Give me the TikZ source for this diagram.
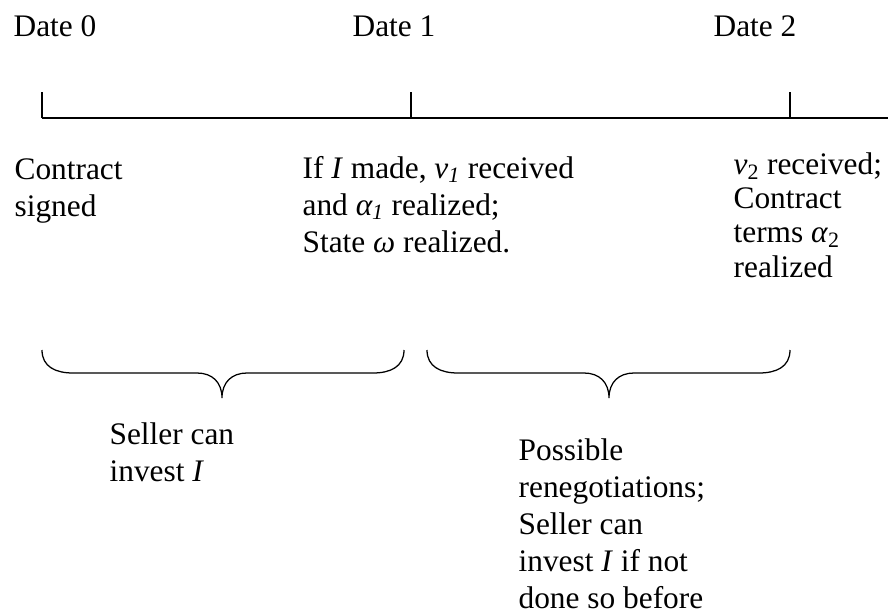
\documentclass[tikz,border=0pt]{standalone}
\usepackage{fontspec}
\setmainfont{Liberation Serif}
\usetikzlibrary{positioning}

\begin{document}
\begin{tikzpicture}[x=0.025cm, y=-0.025cm, line width=0.9pt,
  every node/.style={inner sep=0pt, anchor=base west, align=left,
    font=\fontsize{22.3}{26.2}\selectfont}]
  \useasboundingbox (0,0) rectangle (888,614);

  \node (d0) at (13,36) {Date 0};
  \node (d1) at (352,36) {Date 1};
  \node (d2) at (713,36) {Date 2};

  \coordinate (t0) at (42,118);
  \coordinate (t1) at (411,118);
  \coordinate (t2) at (790,118);
  \coordinate (tend) at (888,118);
  \draw (t0) -- (tend);
  \foreach \t in {t0,t1,t2}
    \draw (\t) -- ++(0,-26);

  \node (sign) at (14,216) {Contract\\signed};
  \node (made) at (302,252) {If \textit{I} made, \textit{v\textsubscript{1}} received\\
    and \textit{α\textsubscript{1}} realized;\\State \textit{ω} realized.};
  \node[font=\fontsize{22.3}{24.2}\selectfont] (recv) at (733,277)
    {\textit{v}\textsubscript{2} received;\\Contract\\terms \textit{α}\textsubscript{2}\\realized};

  \foreach \a/\m/\b in {42/222/404, 427/609/790}
    \draw (\a,350) .. controls (\a,367) and (\a+14,373) .. (\a+31,373)
      -- (\m-25,373) .. controls (\m-10,373) and (\m,382) .. (\m,398)
      .. controls (\m,382) and (\m+10,373) .. (\m+25,373)
      -- (\b-31,373) .. controls (\b-14,373) and (\b,367) .. (\b,350);

  \node (inv) at (109,481) {Seller can\\invest \textit{I}};
  \node (reneg) at (518,608) {Possible\\renegotiations;\\Seller can\\
    invest \textit{I} if not\\done so before};
\end{tikzpicture}
\end{document}
